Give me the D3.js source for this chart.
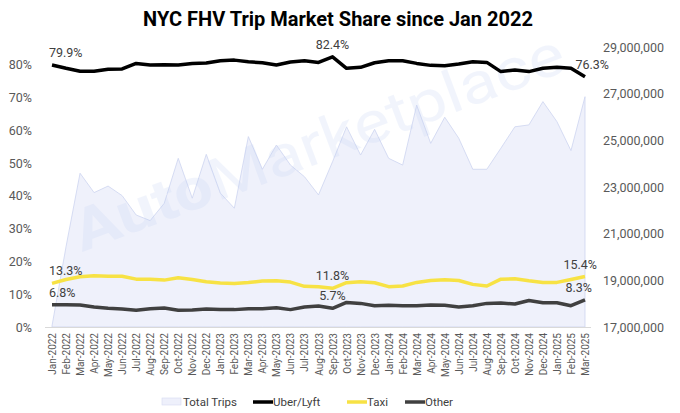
<!DOCTYPE html>
<html>
<head>
<meta charset="utf-8">
<script src="https://cdn.jsdelivr.net/npm/d3@7"></script>
<style>
  body { margin: 0; background: #fff; }
  svg text { font-family: Roboto, "Noto Sans", sans-serif; }
</style>
</head>
<body>
<svg width="680" height="413"></svg>
<script>
// months on the x axis
var months = ["Jan-2022","Feb-2022","Mar-2022","Apr-2022","May-2022","Jun-2022","Jul-2022","Aug-2022","Sep-2022","Oct-2022","Nov-2022","Dec-2022",
  "Jan-2023","Feb-2023","Mar-2023","Apr-2023","May-2023","Jun-2023","Jul-2023","Aug-2023","Sep-2023","Oct-2023","Nov-2023","Dec-2023",
  "Jan-2024","Feb-2024","Mar-2024","Apr-2024","May-2024","Jun-2024","Jul-2024","Aug-2024","Sep-2024","Oct-2024","Nov-2024","Dec-2024",
  "Jan-2025","Feb-2025","Mar-2025"];

// market share, percent
var uber = [79.9,78.9,78.0,78.0,78.6,78.7,80.4,79.9,80.0,79.9,80.4,80.5,
  81.2,81.4,80.9,80.6,79.9,80.8,81.2,80.7,82.4,78.9,79.2,80.6,
  81.2,81.2,80.4,79.8,79.7,80.2,80.9,80.7,77.9,78.4,77.9,78.9,
  79.2,78.9,76.3];
var taxi = [13.3,14.5,15.3,15.6,15.5,15.5,14.6,14.6,14.3,15.0,14.5,13.8,
  13.4,13.3,13.6,14.0,14.1,13.7,12.4,12.3,11.8,13.5,13.8,13.5,
  12.3,12.5,13.6,14.2,14.4,14.2,13.0,12.5,14.6,14.7,14.1,13.6,
  13.6,14.5,15.4];
var other = [6.8,6.8,6.7,6.1,5.7,5.5,5.1,5.6,5.8,5.1,5.2,5.5,
  5.3,5.3,5.6,5.6,5.9,5.3,6.1,6.4,5.7,7.5,7.2,6.5,
  6.6,6.5,6.5,6.7,6.6,6.1,6.5,7.2,7.3,7.0,8.1,7.4,
  7.4,6.5,8.3];

// total trips, millions
var trips = [17.05,20.44,23.59,22.76,23.04,22.63,21.80,21.56,22.30,24.23,22.52,24.40,
  22.74,22.09,25.16,23.76,24.80,23.94,23.44,22.66,24.08,25.58,24.37,25.47,
  24.23,23.94,26.51,24.87,25.99,25.09,23.76,23.76,24.66,25.58,25.66,26.66,
  25.80,24.56,26.87];

var leftTicks = [0,10,20,30,40,50,60,70,80];
var rightTicks = [17,19,21,23,25,27,29];
var labelIdx = [0, 20, 38]; // months that carry a data label

var svg = d3.select("svg");

var x = d3.scalePoint().domain(months).range([52, 585]);
var yL = d3.scaleLinear().domain([0, 85.4]).range([327, 47]);
var yR = d3.scaleLinear().domain([17, 29]).range([327, 47]);

// title
svg.append("text")
  .attr("x", 338).attr("y", 26)
  .attr("text-anchor", "middle")
  .attr("font-size", 20).attr("font-weight", "bold")
  .attr("fill", "#000")
  .text("NYC FHV Trip Market Share since Jan 2022");

// total trips area
var area = d3.area()
  .x(function(d, i) { return x(months[i]); })
  .y0(yR(17))
  .y1(function(d) { return yR(d); });
svg.append("path")
  .datum(trips)
  .attr("d", area)
  .attr("fill", "#eff1fb")
  .attr("stroke", "#cdd4f0")
  .attr("stroke-width", 0.8);

// watermark
var wm = svg.append("text")
  .attr("transform", "translate(82,252) rotate(-20.5)")
  .attr("font-size", 58)
  .attr("fill", "#c3d2f4")
  .attr("opacity", 0.22)
  .attr("textLength", 520)
  .attr("lengthAdjust", "spacingAndGlyphs");
wm.append("tspan").attr("font-weight", "bold").text("Auto");
wm.append("tspan").text("Marketplace");

// bottom axis line
svg.append("line")
  .attr("x1", 45).attr("x2", 591)
  .attr("y1", 327.5).attr("y2", 327.5)
  .attr("stroke", "#d9d9d9");

// left axis
var gl = svg.append("g")
  .attr("transform", "translate(32,0)")
  .call(d3.axisLeft(yL).tickValues(leftTicks).tickSize(0).tickPadding(0)
    .tickFormat(function(d) { return d + "%"; }));
gl.select(".domain").remove();
gl.selectAll("text").attr("font-size", 12.5).attr("fill", "#595959")
  .attr("font-family", "Roboto, sans-serif");

// right axis
var gr = svg.append("g")
  .attr("transform", "translate(603,0)")
  .call(d3.axisRight(yR).tickValues(rightTicks).tickSize(0).tickPadding(0)
    .tickFormat(function(d) { return d3.format(",")(d * 1e6); }));
gr.select(".domain").remove();
gr.selectAll("text").attr("font-size", 12.5).attr("fill", "#595959")
  .attr("font-family", "Roboto, sans-serif");

// bottom axis, rotated month labels
var gb = svg.append("g")
  .attr("transform", "translate(0,327)")
  .call(d3.axisBottom(x).tickSize(0).tickPadding(0));
gb.select(".domain").remove();
gb.selectAll("text")
  .attr("font-size", 10).attr("fill", "#595959")
  .attr("font-family", "Roboto, sans-serif")
  .attr("text-anchor", "end")
  .attr("transform", "rotate(-90)")
  .attr("x", -6).attr("y", 0).attr("dy", "0.35em");

// share lines
var series = [
  { name: "Uber/Lyft", values: uber, color: "#000000", lastDx: 24 },
  { name: "Taxi", values: taxi, color: "#f7e244", lastDx: 12 },
  { name: "Other", values: other, color: "#404040", lastDx: 7 }
];

var line = d3.line()
  .x(function(d, i) { return x(months[i]); })
  .y(function(d) { return yL(d); });

series.forEach(function(s) {
  svg.append("path")
    .datum(s.values)
    .attr("d", line)
    .attr("fill", "none")
    .attr("stroke", s.color)
    .attr("stroke-width", 3.5)
    .attr("stroke-linejoin", "round");

  labelIdx.forEach(function(i, k) {
    var last = k === labelIdx.length - 1;
    var anchor = k === 0 ? "start" : (last ? "end" : "middle");
    var dx = k === 0 ? -3 : (last ? s.lastDx : 0);
    svg.append("text")
      .attr("x", x(months[i]) + dx)
      .attr("y", yL(s.values[i]) - 8)
      .attr("text-anchor", anchor)
      .attr("font-size", 12.5)
      .attr("fill", "#404040")
      .text(s.values[i].toFixed(1) + "%");
  });
});

// legend
var lg = svg.append("g").attr("transform", "translate(0,402)");
lg.append("rect")
  .attr("x", 162).attr("y", -4).attr("width", 19).attr("height", 7)
  .attr("fill", "#eef0fb").attr("stroke", "#d5dbf2").attr("stroke-width", 0.6);
lg.append("text").attr("x", 183).attr("y", 4).attr("font-size", 11.5)
  .attr("fill", "#404040").text("Total Trips");

var legendItems = [
  { s: series[0], x: 253 },
  { s: series[1], x: 347 },
  { s: series[2], x: 405 }
];
legendItems.forEach(function(it) {
  lg.append("line")
    .attr("x1", it.x).attr("x2", it.x + 20)
    .attr("y1", 0).attr("y2", 0)
    .attr("stroke", it.s.color).attr("stroke-width", 3.5);
  lg.append("text").attr("x", it.x + 20).attr("y", 4).attr("font-size", 11.5)
    .attr("fill", "#404040").text(it.s.name);
});
</script>
</body>
</html>
